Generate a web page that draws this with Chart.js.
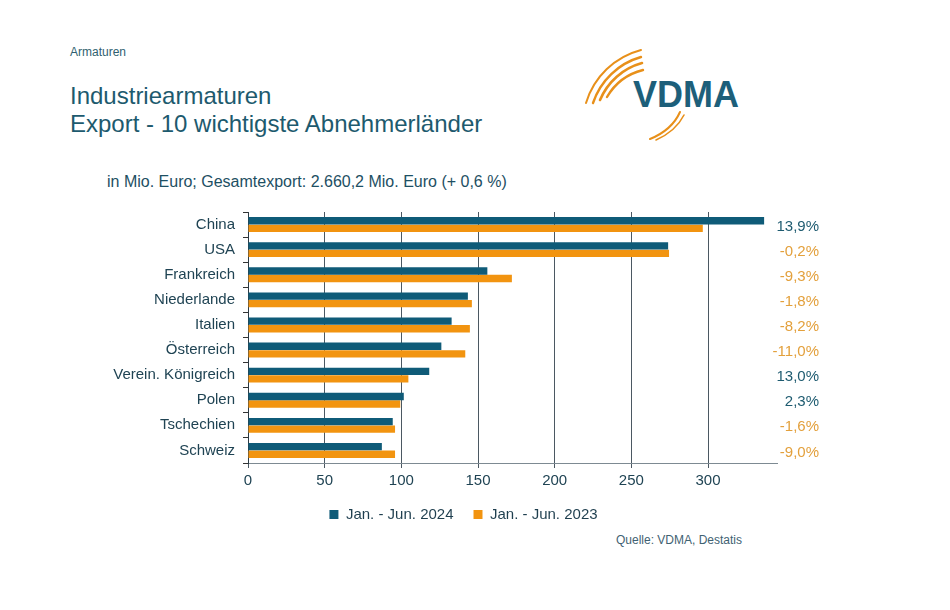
<!DOCTYPE html>
<html>
<head>
<meta charset="utf-8">
<script src="https://cdn.jsdelivr.net/npm/chart.js@4/dist/chart.umd.min.js"></script>
<style>
  body { margin: 0; background: #fff; font-family: "Liberation Sans", Arial, sans-serif; }
  #page { position: relative; width: 950px; height: 610px; overflow: hidden; }
  .txt { position: absolute; white-space: nowrap; }
  #wrap { position: absolute; left: 0; top: 0; width: 926px; height: 610px; }
</style>
</head>
<body>
<div id="page">
  <div class="txt" style="left:70px;top:45px;font-size:12px;color:#2f5f70;">Armaturen</div>
  <div class="txt" style="left:70px;top:82px;font-size:24px;line-height:28px;color:#1d5a6e;">Industriearmaturen<br>Export - 10 wichtigste Abnehmerländer</div>
  <div class="txt" style="left:107px;top:173px;font-size:16px;color:#1d4f63;">in Mio. Euro; Gesamtexport: 2.660,2 Mio. Euro (+ 0,6 %)</div>
  <div class="txt" style="right:208px;top:533px;font-size:12px;color:#3f6272;">Quelle: VDMA, Destatis</div>
  <svg class="txt" style="left:570px;top:40px;" width="200" height="110" viewBox="570 40 200 110">
    <g fill="none" stroke="#e8901a" stroke-linecap="round">
      <path d="M586 103 A78 78 0 0 1 641 50" stroke-width="2"/>
      <path d="M593 103 A71 71 0 0 1 641 57" stroke-width="2.4"/>
      <path d="M600 100 A64 64 0 0 1 642 63" stroke-width="2.6"/>
      <path d="M607 97 A58 58 0 0 1 643 70" stroke-width="2.4"/>
      <path d="M650 139 Q672 130 680 112" stroke-width="2"/>
      <path d="M656 140 Q676 131 684 115" stroke-width="1.6"/>
    </g>
    <text x="633" y="107" font-family="Liberation Sans, Arial, sans-serif" font-weight="bold" font-size="36" fill="#1d5f7a">VDMA</text>
  </svg>
  <div id="wrap"><canvas id="chart"></canvas></div>
</div>
<script>
const countries = ['China', 'USA', 'Frankreich', 'Niederlande', 'Italien', 'Österreich',
  'Verein. Königreich', 'Polen', 'Tschechien', 'Schweiz'];
const export2024 = [336.6, 274.0, 156.1, 143.4, 132.8, 126.1, 118.2, 101.6, 94.4, 87.3];
const export2023 = [296.6, 274.6, 172.1, 146.0, 144.7, 141.7, 104.6, 99.3, 95.9, 95.9];
const changeLabels = ['13,9%', '-0,2%', '-9,3%', '-1,8%', '-8,2%', '-11,0%', '13,0%', '2,3%', '-1,6%', '-9,0%'];
const xTicks = [0, 50, 100, 150, 200, 250, 300];

const teal = '#0f5b78';
const orange = '#f29410';

Chart.defaults.font.family = '"Liberation Sans", Arial, sans-serif';
Chart.defaults.font.size = 15;
Chart.defaults.color = '#1f4353';

const changePlugin = {
  id: 'changeLabels',
  afterLayout(chart) {
    // legend sits centred under the plot, not under the whole canvas
    chart.legend.left += 31;
    chart.legend.right += 31;
  },
  afterDatasetsDraw(chart) {
    const ctx = chart.ctx;
    const y = chart.scales.y;
    ctx.save();
    ctx.font = '15px "Liberation Sans", Arial, sans-serif';
    ctx.textAlign = 'right';
    ctx.textBaseline = 'middle';
    changeLabels.forEach((lab, i) => {
      ctx.fillStyle = lab.startsWith('-') ? '#e3a03c' : '#1e5b70';
      ctx.fillText(lab, 819, y.getPixelForValue(i) + 2);
    });
    ctx.restore();
  }
};

new Chart(document.getElementById('chart'), {
  type: 'bar',
  plugins: [changePlugin],
  data: {
    labels: countries,
    datasets: [
      { label: 'Jan. - Jun. 2024', data: export2024, backgroundColor: teal },
      { label: 'Jan. - Jun. 2023', data: export2023, backgroundColor: orange }
    ]
  },
  options: {
    indexAxis: 'y',
    responsive: true,
    maintainAspectRatio: false,
    animation: false,
    datasets: { bar: { categoryPercentage: 0.6, barPercentage: 0.98 } },
    layout: { padding: { left: 88, right: 149, top: 212, bottom: 78 } },
    plugins: {
      tooltip: { enabled: false },
      legend: {
        position: 'bottom',
        labels: { boxWidth: 9, boxHeight: 9, padding: 20, color: '#1f3f4f', font: { size: 15 } }
      }
    },
    scales: {
      x: {
        min: 0,
        max: 345,
        afterBuildTicks: axis => { axis.ticks = xTicks.map(v => ({ value: v })); },
        afterFit: axis => { axis.height = 24; },
        ticks: { padding: 4, color: '#1f4353' },
        grid: { color: '#4b5862', tickLength: 5, lineWidth: 1 },
        border: { color: '#7d8a92' }
      },
      y: {
        afterFit: axis => { axis.width = 160; },
        ticks: { padding: 8, color: '#1f4353' },
        grid: { drawOnChartArea: false, offset: true, tickLength: 5, color: '#333' },
        border: { color: '#2b3a44' }
      }
    }
  }
});
</script>
</body>
</html>
